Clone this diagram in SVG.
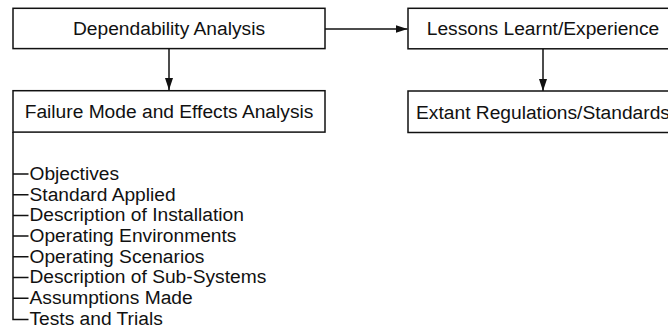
<svg xmlns="http://www.w3.org/2000/svg" width="668" height="331" viewBox="0 0 668 331">
  <style>
    .box { fill: #ffffff; stroke: #111111; stroke-width: 1.5; }
    .label { font-family: "Liberation Sans", Arial, Helvetica, sans-serif; font-size: 19.2px; fill: #111111; }
    .mid { text-anchor: middle; }
    .wire { fill: none; stroke: #111111; stroke-width: 1.5; }
  </style>
  <defs>
    <marker id="arrow" viewBox="0 0 12 8" refX="12" refY="4" markerWidth="12" markerHeight="8" markerUnits="userSpaceOnUse" orient="auto">
      <path d="M0,0 L12,4 L0,8 Z" fill="#111111"/>
    </marker>
  </defs>

  <rect width="668" height="331" fill="#ffffff"/>

  <!-- connectors -->
  <g id="connectors">
    <line class="wire" x1="325" y1="29" x2="407.5" y2="29" marker-end="url(#arrow)"/>
    <line class="wire" x1="169" y1="48.5" x2="169" y2="90" marker-end="url(#arrow)"/>
    <line class="wire" x1="543" y1="49" x2="543" y2="91" marker-end="url(#arrow)"/>
  </g>

  <g id="dependability">
    <rect class="box" x="13" y="8.3" width="312" height="40.3"/>
    <text class="label mid" x="169" y="35">Dependability Analysis</text>
  </g>

  <g id="fmea">
    <rect class="box" x="13" y="90.7" width="312" height="41.4"/>
    <text class="label mid" x="169" y="118.2">Failure Mode and Effects Analysis</text>
  </g>

  <g id="lessons">
    <rect class="box" x="408" y="8.3" width="272" height="40.5"/>
    <text class="label mid" x="543" y="35">Lessons Learnt/Experience</text>
  </g>

  <g id="regulations">
    <rect class="box" x="408" y="91" width="272" height="41.5"/>
    <text class="label mid" x="543" y="118.5">Extant Regulations/Standards</text>
  </g>

  <!-- FMEA contents list -->
  <g id="fmea-contents">
    <path class="wire" d="M13,132 V319.4 H28.5"/>
    <path class="wire" d="M13,174 H28.5 M13,194.7 H28.5 M13,215.4 H28.5 M13,236.1 H28.5 M13,256.8 H28.5 M13,277.5 H28.5 M13,298.2 H28.5"/>
    <text class="label" x="29.5" y="179.8">Objectives</text>
    <text class="label" x="29.5" y="200.5">Standard Applied</text>
    <text class="label" x="29.5" y="221.2">Description of Installation</text>
    <text class="label" x="29.5" y="241.9">Operating Environments</text>
    <text class="label" x="29.5" y="262.6">Operating Scenarios</text>
    <text class="label" x="29.5" y="283.3">Description of Sub-Systems</text>
    <text class="label" x="29.5" y="304">Assumptions Made</text>
    <text class="label" x="29.5" y="324.7">Tests and Trials</text>
  </g>
</svg>
